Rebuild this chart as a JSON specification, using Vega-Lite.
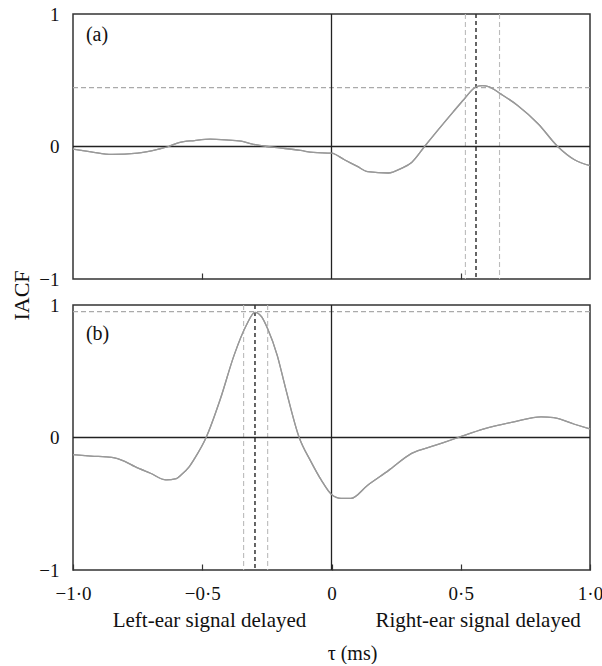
{
  "$schema": "https://vega.github.io/schema/vega-lite/v6.json",
  "padding": {"left": 9, "top": 4, "right": 0, "bottom": 0},
  "background": "white",
  "spacing": 26,
  "bounds": "flush",
  "config": {
    "view": {"stroke": "#333", "strokeWidth": 1.5},
    "font": "Liberation Serif",
    "axis": {"grid": false, "domain": false, "labelFont": "Liberation Serif", "labelFontSize": 19, "labelColor": "#111", "titleFont": "Liberation Serif", "titleFontWeight": "normal", "titleFontSize": 20, "titleColor": "#111", "tickColor": "#333", "tickWidth": 1.2}
  },
  "datasets": {
    "curves": [
      {"panel": "a", "tau": -1.0, "iacf": -0.02},
      {"panel": "a", "tau": -0.93, "iacf": -0.04},
      {"panel": "a", "tau": -0.85, "iacf": -0.06},
      {"panel": "a", "tau": -0.75, "iacf": -0.05},
      {"panel": "a", "tau": -0.67, "iacf": -0.02},
      {"panel": "a", "tau": -0.63, "iacf": 0.0},
      {"panel": "a", "tau": -0.59, "iacf": 0.03},
      {"panel": "a", "tau": -0.53, "iacf": 0.045},
      {"panel": "a", "tau": -0.47, "iacf": 0.055},
      {"panel": "a", "tau": -0.41, "iacf": 0.05},
      {"panel": "a", "tau": -0.35, "iacf": 0.04},
      {"panel": "a", "tau": -0.31, "iacf": 0.02},
      {"panel": "a", "tau": -0.25, "iacf": 0.0},
      {"panel": "a", "tau": -0.18, "iacf": -0.015},
      {"panel": "a", "tau": -0.12, "iacf": -0.03},
      {"panel": "a", "tau": -0.07, "iacf": -0.045},
      {"panel": "a", "tau": 0.0, "iacf": -0.05},
      {"panel": "a", "tau": 0.05, "iacf": -0.1},
      {"panel": "a", "tau": 0.10, "iacf": -0.15},
      {"panel": "a", "tau": 0.14, "iacf": -0.19},
      {"panel": "a", "tau": 0.22, "iacf": -0.2},
      {"panel": "a", "tau": 0.27, "iacf": -0.165},
      {"panel": "a", "tau": 0.31, "iacf": -0.12},
      {"panel": "a", "tau": 0.36, "iacf": 0.0},
      {"panel": "a", "tau": 0.41, "iacf": 0.12},
      {"panel": "a", "tau": 0.47, "iacf": 0.26},
      {"panel": "a", "tau": 0.513, "iacf": 0.357},
      {"panel": "a", "tau": 0.559, "iacf": 0.45},
      {"panel": "a", "tau": 0.585, "iacf": 0.46},
      {"panel": "a", "tau": 0.61, "iacf": 0.45},
      {"panel": "a", "tau": 0.656, "iacf": 0.395},
      {"panel": "a", "tau": 0.72, "iacf": 0.31},
      {"panel": "a", "tau": 0.80, "iacf": 0.17},
      {"panel": "a", "tau": 0.875, "iacf": 0.0},
      {"panel": "a", "tau": 0.94, "iacf": -0.1},
      {"panel": "a", "tau": 1.0, "iacf": -0.145},
      {"panel": "b", "tau": -1.0, "iacf": -0.13},
      {"panel": "b", "tau": -0.93, "iacf": -0.14},
      {"panel": "b", "tau": -0.85, "iacf": -0.15},
      {"panel": "b", "tau": -0.80, "iacf": -0.18},
      {"panel": "b", "tau": -0.76, "iacf": -0.22},
      {"panel": "b", "tau": -0.70, "iacf": -0.27},
      {"panel": "b", "tau": -0.64, "iacf": -0.32},
      {"panel": "b", "tau": -0.60, "iacf": -0.31},
      {"panel": "b", "tau": -0.58, "iacf": -0.28},
      {"panel": "b", "tau": -0.55, "iacf": -0.22},
      {"panel": "b", "tau": -0.53, "iacf": -0.16},
      {"panel": "b", "tau": -0.485, "iacf": 0.0},
      {"panel": "b", "tau": -0.43, "iacf": 0.29},
      {"panel": "b", "tau": -0.377, "iacf": 0.62},
      {"panel": "b", "tau": -0.33, "iacf": 0.845},
      {"panel": "b", "tau": -0.296, "iacf": 0.945},
      {"panel": "b", "tau": -0.27, "iacf": 0.91},
      {"panel": "b", "tau": -0.247, "iacf": 0.82},
      {"panel": "b", "tau": -0.21, "iacf": 0.62},
      {"panel": "b", "tau": -0.18, "iacf": 0.39},
      {"panel": "b", "tau": -0.125, "iacf": 0.0},
      {"panel": "b", "tau": -0.08, "iacf": -0.18},
      {"panel": "b", "tau": -0.04, "iacf": -0.32},
      {"panel": "b", "tau": 0.0, "iacf": -0.43},
      {"panel": "b", "tau": 0.037, "iacf": -0.46},
      {"panel": "b", "tau": 0.075, "iacf": -0.46},
      {"panel": "b", "tau": 0.14, "iacf": -0.36},
      {"panel": "b", "tau": 0.22, "iacf": -0.25},
      {"panel": "b", "tau": 0.31, "iacf": -0.12},
      {"panel": "b", "tau": 0.40, "iacf": -0.06},
      {"panel": "b", "tau": 0.49, "iacf": 0.0},
      {"panel": "b", "tau": 0.59, "iacf": 0.065},
      {"panel": "b", "tau": 0.71, "iacf": 0.12},
      {"panel": "b", "tau": 0.81, "iacf": 0.155},
      {"panel": "b", "tau": 0.86, "iacf": 0.15},
      {"panel": "b", "tau": 0.94, "iacf": 0.1},
      {"panel": "b", "tau": 1.0, "iacf": 0.065}
    ],
    "hdash": [
      {"panel": "a", "iacf": 0.445},
      {"panel": "b", "iacf": 0.95}
    ],
    "vdash": [
      {"panel": "a", "tau": 0.518, "kind": "light"},
      {"panel": "a", "tau": 0.65, "kind": "light"},
      {"panel": "a", "tau": 0.559, "kind": "dark"},
      {"panel": "b", "tau": -0.34, "kind": "light"},
      {"panel": "b", "tau": -0.247, "kind": "light"},
      {"panel": "b", "tau": -0.296, "kind": "dark"}
    ],
    "zeros": [{"tau": 0, "iacf": 0}],
    "labels": [
      {"panel": "a", "tau": -0.95, "iacf": 0.84, "text": "(a)"},
      {"panel": "b", "tau": -0.95, "iacf": 0.78, "text": "(b)"}
    ],
    "sides": [
      {"tau": -0.472, "iacf": -1.385, "text": "Left-ear signal delayed"},
      {"tau": 0.567, "iacf": -1.385, "text": "Right-ear signal delayed"}
    ]
  },
  "vconcat": [
    {
      "width": 517,
      "height": 265,
      "layer": [
        {
          "data": {"name": "curves"},
          "transform": [{"filter": "datum.panel === 'a'"}],
          "mark": {"type": "line", "color": "#999", "strokeWidth": 1.3, "interpolate": "monotone"},
          "encoding": {
            "x": {"field": "tau", "type": "quantitative", "scale": {"domain": [-1, 1], "nice": false},
              "axis": {"title": null, "labels": false, "values": [-0.5, 0.5], "tickSize": -6}},
            "y": {"field": "iacf", "type": "quantitative", "scale": {"domain": [-1, 1], "nice": false},
              "axis": {"title": "IACF", "titleFontSize": 22, "values": [-1, 0, 1], "ticks": false, "labelPadding": 14,
                "labelExpr": "replace(format(datum.value, 'd'), '-', '−')",
                "titleX": -52, "titleY": 281, "titleAngle": -90, "titleAlign": "center", "titleBaseline": "middle"}}
          }
        },
        {
          "data": {"name": "hdash"},
          "transform": [{"filter": "datum.panel === 'a'"}],
          "mark": {"type": "rule", "color": "#aaa", "strokeWidth": 1.2, "strokeDash": [5, 3]},
          "encoding": {"y": {"field": "iacf", "type": "quantitative"}}
        },
        {
          "data": {"name": "vdash"},
          "transform": [{"filter": "datum.panel === 'a' && datum.kind === 'light'"}],
          "mark": {"type": "rule", "color": "#bbb", "strokeWidth": 1.1, "strokeDash": [5, 3]},
          "encoding": {"x": {"field": "tau", "type": "quantitative"}}
        },
        {
          "data": {"name": "vdash"},
          "transform": [{"filter": "datum.panel === 'a' && datum.kind === 'dark'"}],
          "mark": {"type": "rule", "color": "#333", "strokeWidth": 1.5, "strokeDash": [4, 3]},
          "encoding": {"x": {"field": "tau", "type": "quantitative"}}
        },
        {
          "data": {"name": "zeros"},
          "mark": {"type": "rule", "color": "#222", "strokeWidth": 1.3},
          "encoding": {"y": {"field": "iacf", "type": "quantitative"}}
        },
        {
          "data": {"name": "zeros"},
          "mark": {"type": "rule", "color": "#222", "strokeWidth": 1.3},
          "encoding": {"x": {"field": "tau", "type": "quantitative"}}
        },
        {
          "data": {"name": "labels"},
          "transform": [{"filter": "datum.panel === 'a'"}],
          "mark": {"type": "text", "align": "left", "baseline": "middle", "fontSize": 20, "font": "Liberation Serif", "color": "#111"},
          "encoding": {
            "x": {"field": "tau", "type": "quantitative"},
            "y": {"field": "iacf", "type": "quantitative"},
            "text": {"field": "text"}
          }
        },
        {
          "data": {"name": "curves"},
          "transform": [{"filter": "datum.panel === 'a'"}],
          "mark": {"type": "line", "color": "#999", "strokeWidth": 1.3, "interpolate": "monotone"},
          "encoding": {
            "x": {"field": "tau", "type": "quantitative"},
            "y": {"field": "iacf", "type": "quantitative"}
          }
        }
      ]
    },
    {
      "width": 517,
      "height": 265,
      "layer": [
        {
          "data": {"name": "curves"},
          "transform": [{"filter": "datum.panel === 'b'"}],
          "mark": {"type": "line", "color": "#999", "strokeWidth": 1.3, "interpolate": "monotone"},
          "encoding": {
            "x": {"field": "tau", "type": "quantitative", "scale": {"domain": [-1, 1], "nice": false},
              "axis": {"title": "τ (ms)", "values": [-1, -0.5, 0, 0.5, 1], "tickSize": -6, "labelPadding": 20, "labelFlush": false,
                "labelExpr": "datum.value == 0 ? '0' : replace(replace(format(datum.value, '.1f'), '.', '·'), '-', '−')",
                "titleX": 279, "titleY": 83, "titleBaseline": "middle"}},
            "y": {"field": "iacf", "type": "quantitative", "scale": {"domain": [-1, 1], "nice": false},
              "axis": {"title": null, "values": [-1, 0, 1], "ticks": false, "labelPadding": 14,
                "labelExpr": "replace(format(datum.value, 'd'), '-', '−')"}}
          }
        },
        {
          "data": {"name": "hdash"},
          "transform": [{"filter": "datum.panel === 'b'"}],
          "mark": {"type": "rule", "color": "#aaa", "strokeWidth": 1.2, "strokeDash": [5, 3]},
          "encoding": {"y": {"field": "iacf", "type": "quantitative"}}
        },
        {
          "data": {"name": "vdash"},
          "transform": [{"filter": "datum.panel === 'b' && datum.kind === 'light'"}],
          "mark": {"type": "rule", "color": "#bbb", "strokeWidth": 1.1, "strokeDash": [5, 3]},
          "encoding": {"x": {"field": "tau", "type": "quantitative"}}
        },
        {
          "data": {"name": "vdash"},
          "transform": [{"filter": "datum.panel === 'b' && datum.kind === 'dark'"}],
          "mark": {"type": "rule", "color": "#333", "strokeWidth": 1.5, "strokeDash": [4, 3]},
          "encoding": {"x": {"field": "tau", "type": "quantitative"}}
        },
        {
          "data": {"name": "zeros"},
          "mark": {"type": "rule", "color": "#222", "strokeWidth": 1.3},
          "encoding": {"y": {"field": "iacf", "type": "quantitative"}}
        },
        {
          "data": {"name": "zeros"},
          "mark": {"type": "rule", "color": "#222", "strokeWidth": 1.3},
          "encoding": {"x": {"field": "tau", "type": "quantitative"}}
        },
        {
          "data": {"name": "labels"},
          "transform": [{"filter": "datum.panel === 'b'"}],
          "mark": {"type": "text", "align": "left", "baseline": "middle", "fontSize": 20, "font": "Liberation Serif", "color": "#111"},
          "encoding": {
            "x": {"field": "tau", "type": "quantitative"},
            "y": {"field": "iacf", "type": "quantitative"},
            "text": {"field": "text"}
          }
        },
        {
          "data": {"name": "sides"},
          "mark": {"type": "text", "align": "center", "baseline": "middle", "fontSize": 21, "font": "Liberation Serif", "color": "#111"},
          "encoding": {
            "x": {"field": "tau", "type": "quantitative"},
            "y": {"field": "iacf", "type": "quantitative"},
            "text": {"field": "text"}
          }
        },
        {
          "data": {"name": "curves"},
          "transform": [{"filter": "datum.panel === 'b'"}],
          "mark": {"type": "line", "color": "#999", "strokeWidth": 1.3, "interpolate": "monotone"},
          "encoding": {
            "x": {"field": "tau", "type": "quantitative"},
            "y": {"field": "iacf", "type": "quantitative"}
          }
        }
      ]
    }
  ]
}
